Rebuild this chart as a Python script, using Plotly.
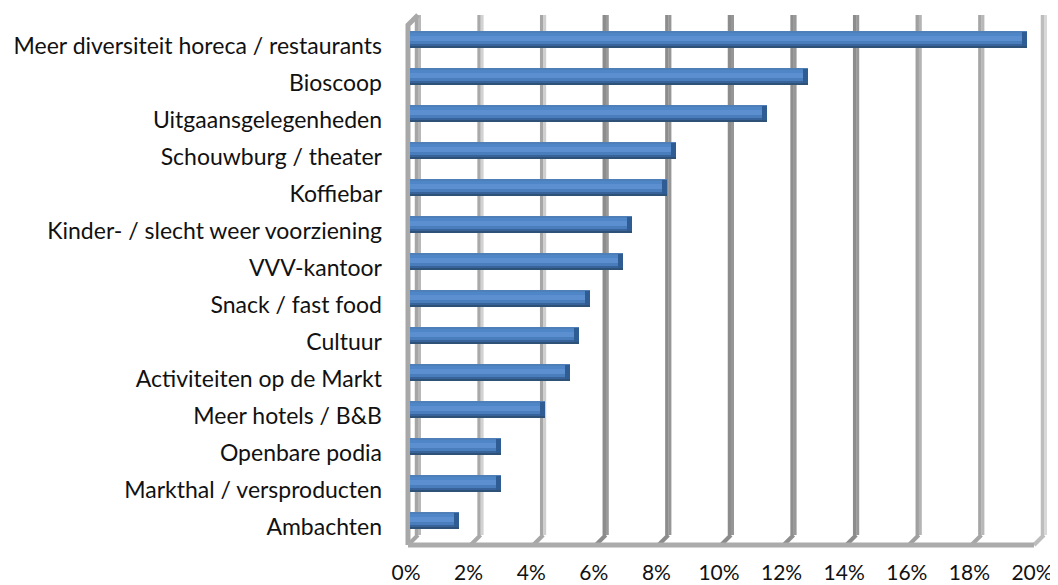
import plotly.graph_objects as go

categories = ["Meer diversiteit horeca / restaurants", "Bioscoop", "Uitgaansgelegenheden",
              "Schouwburg / theater", "Koffiebar", "Kinder- / slecht weer voorziening",
              "VVV-kantoor", "Snack / fast food", "Cultuur", "Activiteiten op de Markt",
              "Meer hotels / B&B", "Openbare podia", "Markthal / versproducten", "Ambachten"]
values = [19.7, 12.7, 11.4, 8.5, 8.2, 7.1, 6.8, 5.75, 5.4, 5.1, 4.3, 2.9, 2.9, 1.55]
ticks = [0, 2, 4, 6, 8, 10, 12, 14, 16, 18, 20]
tick_labels = [f"{t}%" for t in ticks]
grid_colors = ["#A6A6A6", "#A9A9A9", "#A6A6A6", "#8C8C8C", "#8C8C8C", "#8C8C8C",
               "#8E8E8E", "#8C8C8C", "#A0A0A0", "#A6A6A6", "#BDBDBD"]
grid_light = ["#B8B8B8", "#D2D2D2", "#CFCFCF", "#9A9A9A", "#969696", "#969696",
              "#989898", "#989898", "#B4B4B4", "#B8B8B8", "#D8D8D8"]

PAGE = 8  # the page's own margin round the figure
PX_X = 31.3
PX_Y = 37.0
LEFT, RIGHT, TOP, BOTTOM = 390, 1058, 8, 558
X0, Y0 = 406, 38.8
px = lambda p: p / PX_X
py = lambda p: (p - Y0) / PX_Y

idx = list(range(len(categories)))
fig = go.Figure()

def seg(xs, ys, color, width):
    fig.add_trace(go.Scatter(x=xs, y=ys, mode="lines", hoverinfo="skip", showlegend=False,
                             line=dict(color=color, width=width)))

back = px(12)
front = px(2)
bar_base = px(4)
# back grid
for t, c, l in zip(ticks, grid_colors, grid_light):
    seg([t + back - px(1.5)] * 2, [py(15), py(535)], c, 3.5)
    seg([t + back + px(1.5)] * 2, [py(15), py(535)], l, 3)
    seg([t + front, t + back], [py(545), py(535)], c, 4)
# front wall and floor
seg([front, front, back], [py(545), py(25), py(15)], "#A8A8A8", 5)
seg([front, 20 + front], [py(545), py(545)], "#ABABAB", 5)

# layered bars on an overlaying subplot so that they lie above the grid
strips = [(-8, 2, "#4E7FB9"), (-6, 3, "#4F86C8"), (-3, 5, "#5B8FD0"),
          (2, 3, "#4A7DBB"), (5, 2, "#38639A"), (7, 2, "#2E5177")]
for off, h, col in strips:
    fig.add_trace(go.Bar(y=idx, x=values, base=bar_base, orientation="h", offset=off / PX_Y,
                         width=h / PX_Y, marker=dict(color=col, line=dict(width=0)),
                         hoverinfo="skip", showlegend=False, xaxis="x2", yaxis="y2"))
# dark end caps
fig.add_trace(go.Bar(y=idx, x=[px(5)] * len(values), base=[v + bar_base - px(5) for v in values],
                     orientation="h", offset=-7 / PX_Y, width=14 / PX_Y,
                     marker=dict(color="#2F5C92", line=dict(width=0)),
                     hoverinfo="skip", showlegend=False, xaxis="x2", yaxis="y2"))

label_shift = 7 / PX_Y
W, H = 1058 - PAGE, 585 - PAGE
x_range = [px(LEFT - X0), px(RIGHT - X0)]
y_range = [py(BOTTOM), py(TOP)]
fig.update_layout(
    width=W, height=H, autosize=False,
    margin=dict(l=LEFT - PAGE, r=0, t=TOP - PAGE, b=585 - BOTTOM, pad=0),
    paper_bgcolor="white", plot_bgcolor="white",
    barmode="overlay", bargap=0, showlegend=False,
    font=dict(family="Lato, Carlito, sans-serif", size=22, color="#111111"),
    xaxis=dict(range=x_range, tickmode="array", tickvals=ticks, automargin=False,
               ticktext=tick_labels, showgrid=False, zeroline=False, showline=False,
               ticks="", tickfont=dict(size=21), ticklabelstandoff=0, fixedrange=True),
    yaxis=dict(range=y_range, tickmode="array", automargin=False,
               tickvals=[i + label_shift for i in idx], ticktext=categories,
               showgrid=False, zeroline=False, showline=False, ticks="",
               tickfont=dict(size=23), ticklabelstandoff=7, fixedrange=True),
    xaxis2=dict(range=x_range, overlaying="x", anchor="y2", visible=False, fixedrange=True),
    yaxis2=dict(range=y_range, overlaying="y", anchor="x2", visible=False, fixedrange=True),
)
fig.write_html("out.html", config={"displayModeBar": False})
